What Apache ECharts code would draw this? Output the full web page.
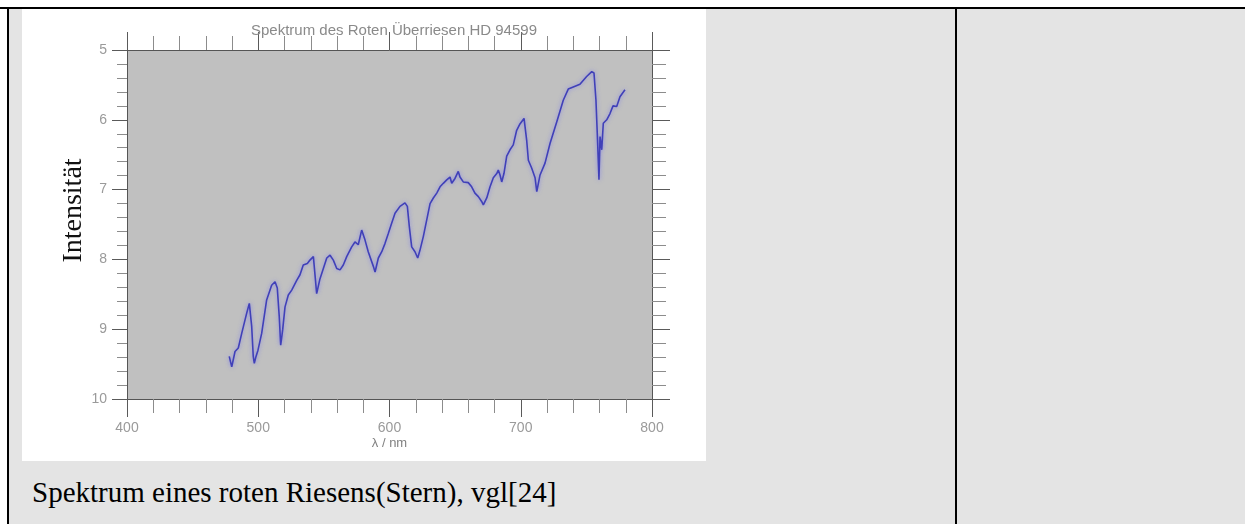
<!DOCTYPE html>
<html>
<head>
<meta charset="utf-8">
<script src="https://cdn.jsdelivr.net/npm/echarts@6/dist/echarts.min.js"></script>
<style>
  html, body { margin: 0; padding: 0; background: #ffffff; width: 1245px; height: 524px; overflow: hidden; }
  #cell { position: absolute; left: 9px; top: 9px; width: 1236px; height: 515px; background: #e4e4e4; }
  #topline { position: absolute; left: 0; top: 7px; width: 1245px; height: 2px; background: #000; }
  #leftline { position: absolute; left: 7px; top: 7px; width: 2px; height: 517px; background: #000; }
  #divider { position: absolute; left: 955px; top: 7px; width: 2px; height: 517px; background: #000; }
  #chart { position: absolute; left: 22px; top: 9px; width: 684px; height: 452px; background: #ffffff; }
  #caption { position: absolute; left: 32px; top: 476px; font-family: "Liberation Serif", "Times New Roman", serif; font-size: 29px; color: #000; white-space: nowrap; line-height: normal; }
</style>
</head>
<body>
<div id="cell"></div>
<div id="topline"></div>
<div id="leftline"></div>
<div id="divider"></div>
<div id="chart"></div>
<div id="caption">Spektrum eines roten Riesens(Stern), vgl[24]</div>
<script>
const chartTitle = "Spektrum des Roten Überriesen HD 94599";
const xAxisName = "λ / nm";
const yAxisName = "Intensität";

const wavelengths = [
  477.9, 479.8, 482.3, 484.8, 487.4, 491.2, 493.2, 495.0, 496.2, 497.0,
  498.3, 499.8, 502.6, 506.4, 510.2, 512.8, 514.5, 516.0, 517.1, 518.6,
  520.4, 522.9, 525.5, 529.3, 531.8, 534.3, 537.4, 539.4, 542.0, 544.5,
  547.0, 552.2, 554.7, 557.2, 559.8, 562.3, 564.8, 567.4, 571.2, 573.7,
  576.2, 578.8, 581.3, 583.8, 587.7, 589.0, 591.5, 594.1, 596.6, 599.1,
  601.7, 604.2, 608.0, 611.8, 613.6, 615.1, 616.9, 619.4, 621.5, 623.2,
  625.8, 630.9, 633.4, 636.0, 638.5, 641.0, 643.6, 646.1, 647.4, 649.9,
  652.4, 653.7, 656.2, 660.0, 662.6, 665.1, 667.7, 670.2, 671.5, 674.1,
  676.6, 679.1, 681.7, 682.9, 684.2, 685.5, 687.2, 689.3, 691.8, 694.3,
  696.9, 699.4, 702.5, 704.5, 705.8, 708.3, 710.9, 712.2, 714.7, 718.5,
  722.3, 727.4, 732.4, 736.2, 740.0, 745.1, 750.2, 754.1, 755.8, 757.3,
  758.6, 759.6, 760.4, 761.7, 762.9, 765.5, 768.0, 770.3, 773.1, 775.6,
  779.4
];
const intensities = [
  9.39, 9.54, 9.32, 9.27, 9.06, 8.77, 8.63, 8.96, 9.39, 9.49,
  9.39, 9.30, 9.06, 8.58, 8.37, 8.32, 8.41, 8.82, 9.23, 9.01,
  8.68, 8.51, 8.44, 8.30, 8.22, 8.08, 8.06, 8.01, 7.96, 8.49,
  8.28, 7.98, 7.94, 8.01, 8.13, 8.15, 8.08, 7.96, 7.82, 7.75,
  7.79, 7.58, 7.72, 7.89, 8.10, 8.18, 7.98, 7.89, 7.77, 7.63,
  7.48, 7.34, 7.24, 7.19, 7.24, 7.53, 7.82, 7.89, 7.98, 7.87,
  7.67, 7.20, 7.12, 7.05, 6.96, 6.91, 6.86, 6.82, 6.91, 6.84,
  6.74, 6.82, 6.89, 6.90, 6.96, 7.05, 7.10, 7.17, 7.22, 7.12,
  6.96, 6.83, 6.77, 6.72, 6.79, 6.89, 6.77, 6.52, 6.43, 6.36,
  6.15, 6.06, 5.98, 6.29, 6.58, 6.69, 6.83, 7.03, 6.79, 6.62,
  6.34, 6.03, 5.72, 5.56, 5.53, 5.49, 5.38, 5.31, 5.33, 5.72,
  6.34, 6.86, 6.24, 6.43, 6.05, 6.00, 5.91, 5.80, 5.81, 5.67,
  5.57
];

const xMin = 400, xMax = 800, xStep = 100;
const yMin = 5, yMax = 10, yStep = 1;

const seriesData = wavelengths.map((w, i) => [w, intensities[i]]);

const chart = echarts.init(document.getElementById('chart'), null, { renderer: 'canvas' });

const majorColor = '#5a5a5a';
const minorColor = '#8c8c8c';
const labelColor = '#9a9a9a';
const sans = '"Liberation Sans", Arial, sans-serif';

function xAxisCfg(position, showLabel) {
  return {
    type: 'value', position: position, min: xMin, max: xMax, interval: xStep,
    axisLine: { show: true, onZero: false, lineStyle: { color: '#555555', width: 1 } },
    axisTick: { show: true, inside: false, length: 18, lineStyle: { color: majorColor, width: 1 } },
    minorTick: { show: true, splitNumber: 5, length: 14, lineStyle: { color: minorColor, width: 1 } },
    splitLine: { show: false },
    axisLabel: { show: showLabel, margin: 22, color: labelColor, fontSize: 14, fontFamily: sans },
    name: showLabel ? xAxisName : '',
    nameLocation: 'middle', nameGap: 38, nameMoveOverlap: false,
    nameTextStyle: { color: '#808080', fontSize: 13, fontFamily: sans }
  };
}
function yAxisCfg(position, showLabel) {
  return {
    type: 'value', position: position, min: yMin, max: yMax, interval: yStep, inverse: true,
    axisLine: { show: true, onZero: false, lineStyle: { color: '#555555', width: 1 } },
    axisTick: { show: true, inside: false, length: showLabel ? 15 : 18, lineStyle: { color: majorColor, width: 1 } },
    minorTick: { show: true, splitNumber: 5, length: showLabel ? 10 : 14, lineStyle: { color: minorColor, width: 1 } },
    splitLine: { show: false },
    axisLabel: { show: showLabel, margin: 20, color: labelColor, fontSize: 14, fontFamily: sans },
    name: showLabel ? yAxisName : '',
    nameLocation: 'middle', nameGap: 39, nameRotate: 90, nameMoveOverlap: false,
    nameTextStyle: { color: '#111111', fontSize: 28, fontFamily: '"Liberation Serif", "Times New Roman", serif', padding: [0, 0, 0, 28] }
  };
}

chart.setOption({
  animation: false,
  backgroundColor: '#ffffff',
  title: {
    text: chartTitle, left: 367, top: 9, textAlign: 'center',
    textStyle: { color: '#8a8a8a', fontSize: 15, fontWeight: 'normal', fontFamily: sans }
  },
  grid: { left: 105, top: 41, width: 525, height: 349, show: true, backgroundColor: '#c0c0c0', borderWidth: 0, containLabel: false },
  xAxis: [xAxisCfg('bottom', true), xAxisCfg('top', false)],
  yAxis: [yAxisCfg('left', true), yAxisCfg('right', false)],
  series: [{
    type: 'line', xAxisIndex: 0, yAxisIndex: 0, data: seriesData,
    showSymbol: false, smooth: false,
    lineStyle: { color: '#4040b8', width: 1.6, shadowColor: 'rgba(120,120,240,0.8)', shadowBlur: 4 }
  }]
});
</script>
</body>
</html>
